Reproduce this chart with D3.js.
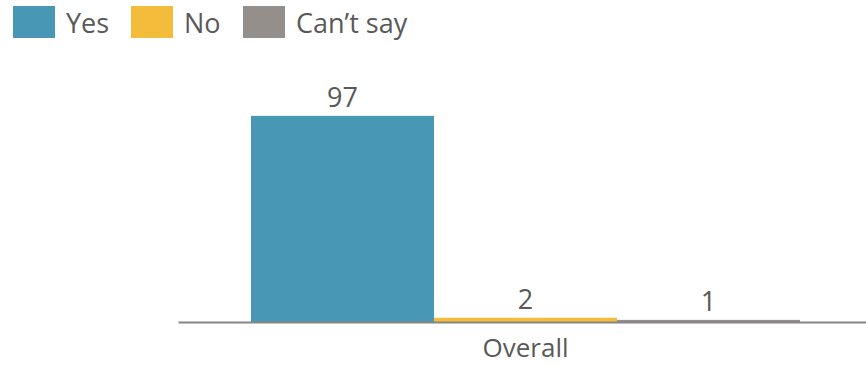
<!DOCTYPE html>
<html>
<head>
<meta charset="utf-8">
<script src="https://cdn.jsdelivr.net/npm/d3@7"></script>
<style>
  html, body { margin: 0; padding: 0; background: #fff; }
  svg { display: block; }
  text { font-family: "Open Sans", "Noto Sans", sans-serif; fill: #595959; }
</style>
</head>
<body>
<svg id="chart" width="866" height="365"></svg>
<script>
// Survey result: share of responses per answer, one category group
const categories = ["Overall"];
const seriesNames = ["Yes", "No", "Can\u2019t say"];
const seriesValues = [97, 2, 1];
const seriesColors = ["#4797b5", "#f3bc3a", "#958f8c"];

const svg = d3.select("#chart");
const width = 866, height = 365;
const margin = { left: 178, right: -7, top: 108, bottom: 43 };
const plotBottom = height - margin.bottom;

// Category scale
const x0 = d3.scaleBand()
  .domain(categories)
  .range([margin.left, width - margin.right])
  .paddingInner(0)
  .paddingOuter(0.133);

// Series within category
const x1 = d3.scaleBand()
  .domain(seriesNames)
  .range([0, x0.bandwidth()])
  .padding(0);

const y = d3.scaleLinear()
  .domain([0, 100])
  .range([plotBottom, plotBottom - 212.5]);

const color = d3.scaleOrdinal().domain(seriesNames).range(seriesColors);

const rows = categories.map(c => ({
  category: c,
  values: seriesNames.map((s, i) => ({ key: s, value: seriesValues[i] }))
}));

const groups = svg.selectAll("g.group")
  .data(rows)
  .join("g")
  .attr("class", "group")
  .attr("transform", d => `translate(${x0(d.category)},0)`);

groups.selectAll("rect")
  .data(d => d.values)
  .join("rect")
  .attr("x", d => x1(d.key))
  .attr("width", x1.bandwidth())
  .attr("y", d => y(d.value))
  .attr("height", d => y(0) - y(d.value))
  .attr("fill", d => color(d.key));

groups.selectAll("text.value")
  .data(d => d.values)
  .join("text")
  .attr("class", "value")
  .attr("x", d => x1(d.key) + x1.bandwidth() / 2)
  .attr("y", d => y(d.value) - 9)
  .attr("text-anchor", "middle")
  .attr("font-size", 27)
  .text(d => d.value);

// Category axis
const xAxis = svg.append("g")
  .attr("transform", `translate(0,${plotBottom})`)
  .call(d3.axisBottom(x0).tickSize(0).tickPadding(17));
xAxis.select(".domain").attr("stroke", "#858585").attr("stroke-width", 2);
xAxis.selectAll(".tick text")
  .attr("font-size", 26)
  .attr("fill", "#595959")
  .style("font-family", "'Open Sans', 'Noto Sans', sans-serif");

// Legend
const legend = svg.append("g").attr("class", "legend");
const legendX = [13, 131, 243];
const item = legend.selectAll("g")
  .data(seriesNames)
  .join("g")
  .attr("transform", (d, i) => `translate(${legendX[i]},6)`);
item.append("rect")
  .attr("width", 42)
  .attr("height", 32)
  .attr("fill", d => color(d));
item.append("text")
  .attr("x", 53)
  .attr("y", 27)
  .attr("font-size", 27)
  .text(d => d);
</script>
</body>
</html>
